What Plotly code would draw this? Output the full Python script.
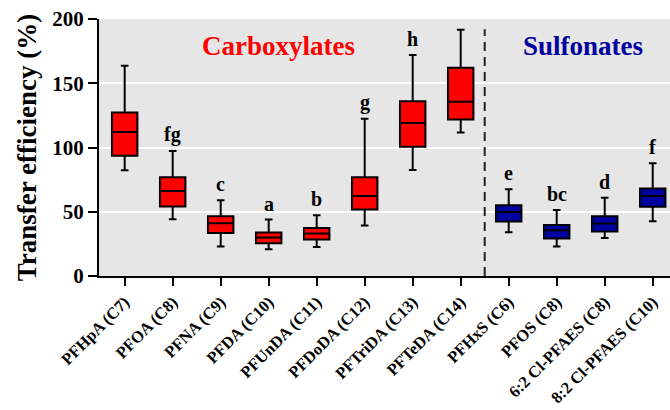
import plotly.graph_objects as go

categories = ["PFHpA (C7)", "PFOA (C8)", "PFNA (C9)", "PFDA (C10)", "PFUnDA (C11)",
              "PFDoDA (C12)", "PFTriDA (C13)", "PFTeDA (C14)", "PFHxS (C6)", "PFOS (C8)",
              "6:2 Cl-PFAES (C8)", "8:2 Cl-PFAES (C10)"]
groups = ["carb"] * 8 + ["sulf"] * 4
lower = [82.3, 44.2, 22.9, 20.8, 22.6, 39.3, 82.4, 111.7, 34.0, 22.9, 29.6, 42.6]
q1 = [93.5, 54.1, 33.5, 25.5, 28.4, 51.7, 100.5, 121.8, 42.4, 29.1, 34.6, 53.8]
median = [112.0, 66.2, 41.0, 29.9, 33.0, 62.3, 119.0, 135.6, 49.9, 35.6, 40.8, 62.3]
q3 = [127.3, 76.9, 46.5, 33.8, 37.4, 76.9, 135.9, 162.0, 55.1, 39.7, 46.5, 68.1]
upper = [163.6, 97.2, 59.0, 43.9, 47.3, 122.3, 172.0, 191.7, 67.5, 51.4, 60.8, 87.8]
letters = ["", "fg", "c", "a", "b", "g", "h", "", "e", "bc", "d", "f"]
yticks = [0, 50, 100, 150, 200]

RED = "#ff0000"
BLUE = "#0000a0"
FONT = "Liberation Serif, Times New Roman, serif"

fig = go.Figure()
for i, cat in enumerate(categories):
    col = RED if groups[i] == "carb" else BLUE
    fig.add_trace(go.Box(
        x=[i], q1=[q1[i]], median=[median[i]], q3=[q3[i]],
        lowerfence=[lower[i]], upperfence=[upper[i]],
        fillcolor=col, line=dict(color="black", width=2),
        width=0.53, whiskerwidth=0.3, boxpoints=False, showlegend=False,
        hoverinfo="skip"))
    if letters[i]:
        fig.add_annotation(x=i, y=upper[i], text=letters[i], showarrow=False,
                           yanchor="bottom", yshift=3,
                           font=dict(family=FONT, size=20, color="black", weight="bold"))

fig.add_annotation(x=3.2, y=179, text="Carboxylates", showarrow=False,
                   font=dict(family=FONT, size=27, color=RED, weight="bold"))
fig.add_annotation(x=9.55, y=179, text="Sulfonates", showarrow=False,
                   font=dict(family=FONT, size=27, color=BLUE, weight="bold"))

fig.add_shape(type="line", x0=7.5, x1=7.5, y0=0, y1=192, xref="x", yref="y",
              line=dict(color="#222222", width=2, dash="9px,6px"))

fig.update_layout(
    width=670, height=410,
    margin=dict(l=99, r=0, t=19, b=134),
    paper_bgcolor="white", plot_bgcolor="#e6e6e6",
    font=dict(family=FONT, color="black"),
    xaxis=dict(range=[-0.535, 11.36], tickmode="array",
               tickvals=list(range(len(categories))), ticktext=categories,
               tickangle=-45, ticks="outside", ticklen=8, tickwidth=2,
               tickcolor="black", showline=True, linecolor="black", linewidth=2,
               showgrid=False, zeroline=False, automargin=False,
               tickfont=dict(family=FONT, size=16.5, color="black", weight="bold")),
    yaxis=dict(range=[0, 200], tickvals=yticks, ticks="outside", ticklen=9,
               tickwidth=2, tickcolor="black", showline=True, linecolor="black",
               linewidth=2, showgrid=True, gridcolor="white", gridwidth=2,
               zeroline=False, automargin=False,
               tickfont=dict(family=FONT, size=21, color="black", weight="bold"),
               title=dict(text="Transfer efficiency (%)", standoff=8,
                          font=dict(family=FONT, size=27, color="black", weight="bold"))),
)

fig.write_html("out.html", config={"displayModeBar": False},
               post_script="document.body.style.margin='0px';document.body.style.overflow='hidden';")
